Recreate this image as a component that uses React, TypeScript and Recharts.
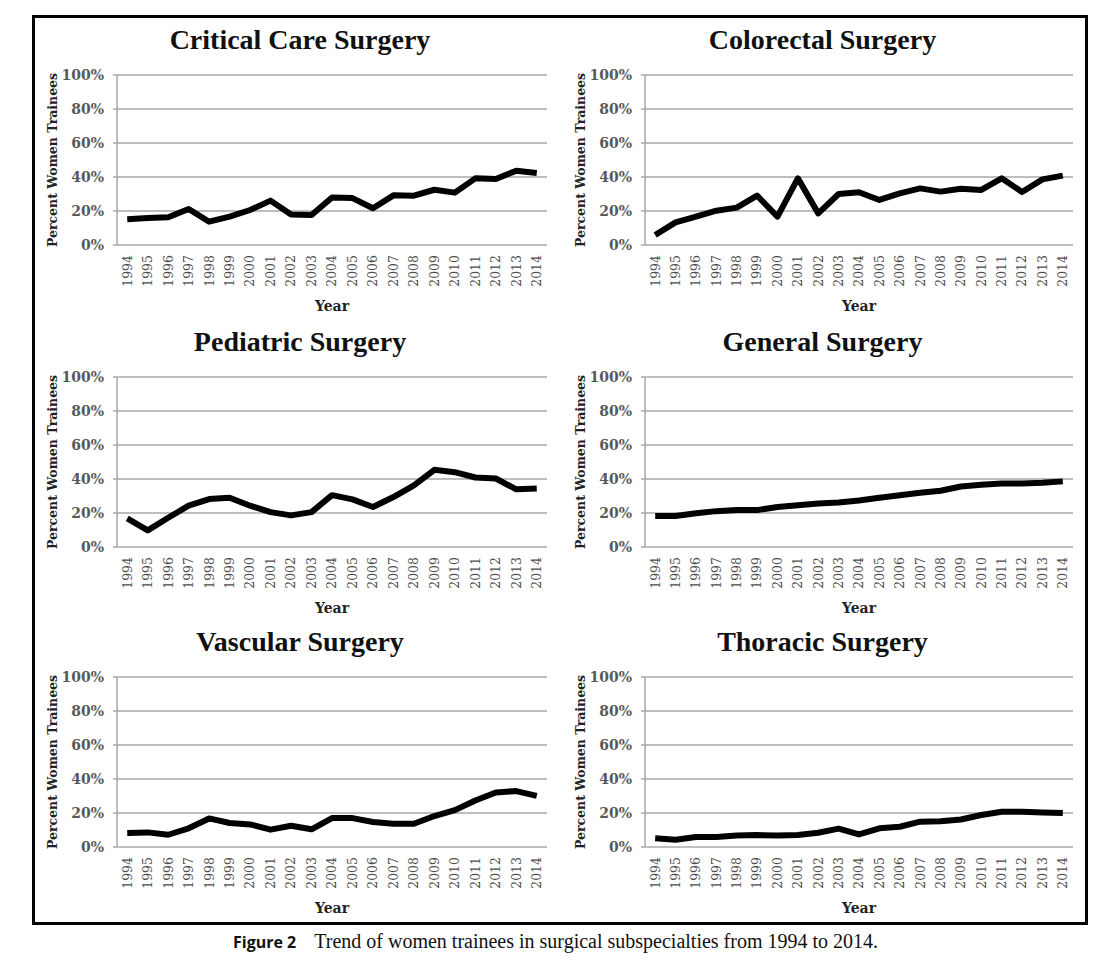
import { CartesianGrid, Line, LineChart, XAxis, YAxis } from "recharts";

const years = [
  1994, 1995, 1996, 1997, 1998, 1999, 2000, 2001, 2002, 2003, 2004, 2005, 2006,
  2007, 2008, 2009, 2010, 2011, 2012, 2013, 2014,
];
const yearEdges = [...years.map((y) => y - 0.5), 2014.5];
const percentTicks = [0, 20, 40, 60, 80, 100];

const criticalCare = [
  15.1, 15.9, 16.3, 21.2, 13.7, 16.7, 20.6, 26.1, 18, 17.6, 28, 27.6, 21.6,
  29.2, 29, 32.5, 30.8, 39.2, 38.8, 43.7, 42.4,
];
const colorectal = [
  5.9, 13.3, 16.7, 20.2, 22, 29, 16.7, 39.2, 18.6, 30, 31, 26.5, 30.4, 33.3,
  31.4, 33.1, 32.4, 39.2, 31.2, 38.6, 40.8,
];
const pediatric = [
  16.8, 9.8, 17.2, 24.3, 28.2, 29, 24.3, 20.5, 18.6, 20.5, 30.5, 28, 23.5,
  29.4, 36.2, 45.4, 44, 40.9, 40.3, 33.9, 34.4,
];
const general = [
  18.2, 18.2, 19.8, 21.1, 21.7, 21.7, 23.5, 24.5, 25.6, 26.2, 27.4, 29, 30.5,
  31.9, 33.1, 35.6, 36.6, 37.4, 37.4, 37.8, 38.6,
];
const vascular = [
  8.2, 8.6, 7.2, 11, 16.8, 14.1, 13.3, 10.2, 12.5, 10.4, 17, 17, 14.7, 13.7,
  13.7, 18.2, 21.7, 27.4, 32.1, 32.9, 30.1,
];
const thoracic = [
  5.1, 4.3, 5.9, 5.9, 6.7, 7, 6.7, 7, 8.4, 10.8, 7.4, 11, 11.9, 14.9, 15.1,
  16.2, 18.8, 20.7, 20.7, 20.3, 20,
];

const GRAY = "#a9a9a9";
const TEXT_GRAY = "#595959";
const SERIF = "'DejaVu Serif', serif";

function YearTick({ x, y, payload }: any) {
  return (
    <text
      x={x}
      y={y}
      transform={`rotate(-90 ${x} ${y})`}
      textAnchor="end"
      dy="0.35em"
      fontSize={12.5}
      fontFamily={SERIF}
      fill="#4d4d4d"
    >
      {payload.value}
    </text>
  );
}

function YLabel({ viewBox }: any) {
  const x = viewBox.x + 10;
  const y = viewBox.y + viewBox.height / 2;
  return (
    <text
      x={x}
      y={y}
      transform={`rotate(-90 ${x} ${y})`}
      textAnchor="middle"
      dominantBaseline="central"
      fontSize={12.5}
      fontWeight="bold"
      fontFamily={SERIF}
      fill="#222"
    >
      Percent Women Trainees
    </text>
  );
}

interface PanelProps {
  title: string;
  values: number[];
  left: number;
  top: number;
  width: number;
  marginLeft: number;
  marginRight: number;
}

function Panel({ title, values, left, top, width, marginLeft, marginRight }: PanelProps) {
  const data = years.map((year, i) => ({ year, value: values[i] }));
  return (
    <div style={{ position: "absolute", left, top, width }}>
      <div
        style={{
          height: 40,
          lineHeight: "40px",
          textAlign: "center",
          fontFamily: "'Liberation Serif', serif",
          fontWeight: "bold",
          fontSize: 28,
          color: "#111",
        }}
      >
        {title}
      </div>
      <LineChart
        width={width}
        height={260}
        data={data}
        margin={{ top: 15, right: marginRight, bottom: 5, left: marginLeft }}
      >
        <CartesianGrid vertical={false} stroke={GRAY} strokeWidth={1.5} xAxisId="labels" />
        <XAxis
          xAxisId="marks"
          type="number"
          domain={[1993.5, 2014.5]}
          ticks={yearEdges}
          tick={false}
          tickSize={5}
          height={0}
          stroke={GRAY}
          axisLine={{ stroke: GRAY, strokeWidth: 1.5 }}
          tickLine={{ stroke: GRAY, strokeWidth: 1.5 }}
          allowDataOverflow
        />
        <XAxis
          xAxisId="labels"
          type="number"
          dataKey="year"
          domain={[1993.5, 2014.5]}
          ticks={years}
          interval={0}
          tick={<YearTick />}
          tickLine={false}
          axisLine={false}
          tickMargin={4}
          height={70}
          allowDataOverflow
          label={{
            value: "Year",
            position: "insideBottom",
            offset: 4,
            fontSize: 14,
            fontWeight: "bold",
            fontFamily: SERIF,
            fill: "#222",
          }}
        />
        <YAxis
          domain={[0, 100]}
          ticks={percentTicks}
          tickFormatter={(v) => `${v}%`}
          width={75}
          tickSize={4}
          tickMargin={9}
          axisLine={{ stroke: GRAY, strokeWidth: 1.5 }}
          tickLine={{ stroke: GRAY, strokeWidth: 1.5 }}
          tick={{ fontSize: 14, fontWeight: "bold", fontFamily: SERIF, fill: TEXT_GRAY }}
          label={<YLabel />}
        />
        <Line
          xAxisId="labels"
          type="linear"
          dataKey="value"
          stroke="#000"
          strokeWidth={6}
          strokeLinejoin="round"
          dot={false}
          isAnimationActive={false}
        />
      </LineChart>
    </div>
  );
}

const rowTops = [75, 377, 677];

export default function App() {
  const leftPanel = { left: 40, width: 520, marginLeft: 2, marginRight: 13 };
  const rightPanel = { left: 560, width: 525, marginLeft: 10, marginRight: 12 };
  return (
    <div
      style={{
        position: "absolute",
        left: 0,
        top: 0,
        width: 1111,
        height: 978,
        background: "#fff",
      }}
    >
      <div
        style={{
          position: "absolute",
          left: 32,
          top: 15,
          width: 1050,
          height: 904,
          border: "3px solid #000",
        }}
      />
      <Panel title="Critical Care Surgery" values={criticalCare} top={rowTops[0] - 55} {...leftPanel} />
      <Panel title="Colorectal Surgery" values={colorectal} top={rowTops[0] - 55} {...rightPanel} />
      <Panel title="Pediatric Surgery" values={pediatric} top={rowTops[1] - 55} {...leftPanel} />
      <Panel title="General Surgery" values={general} top={rowTops[1] - 55} {...rightPanel} />
      <Panel title="Vascular Surgery" values={vascular} top={rowTops[2] - 55} {...leftPanel} />
      <Panel title="Thoracic Surgery" values={thoracic} top={rowTops[2] - 55} {...rightPanel} />
      <div
        style={{
          position: "absolute",
          left: 233,
          top: 930,
          whiteSpace: "nowrap",
          fontSize: 20,
          fontFamily: "'Liberation Serif', serif",
          color: "#111",
        }}
      >
        <span
          style={{
            fontFamily: "'Open Sans', sans-serif",
            fontWeight: "bold",
            fontSize: 16,
            marginRight: 18,
          }}
        >
          Figure 2
        </span>
        Trend of women trainees in surgical subspecialties from 1994 to 2014.
      </div>
    </div>
  );
}
